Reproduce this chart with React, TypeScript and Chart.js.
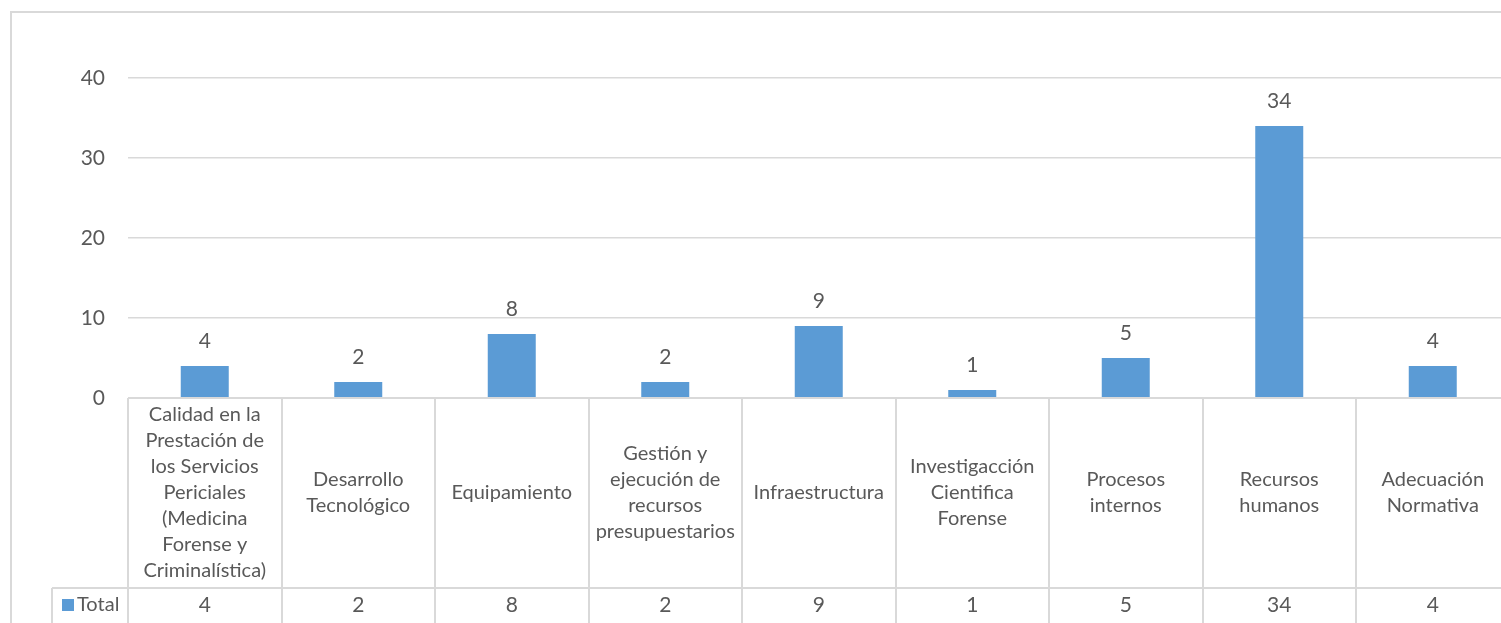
import React, { useEffect, useRef } from "react";
import { Chart, registerables } from "chart.js";

Chart.register(...registerables);

const categories: string[][] = [
  ["Calidad en la", "Prestación de", "los Servicios", "Periciales", "(Medicina", "Forense y", "Criminalística)"],
  ["Desarrollo", "Tecnológico"],
  ["Equipamiento"],
  ["Gestión y", "ejecución de", "recursos", "presupuestarios"],
  ["Infraestructura"],
  ["Investigacción", "Cientifica", "Forense"],
  ["Procesos", "internos"],
  ["Recursos", "humanos"],
  ["Adecuación", "Normativa"],
];
const totals: number[] = [4, 2, 8, 2, 9, 1, 5, 34, 4];
const seriesName = "Total";
const yMin = 0;
const yMax = 40;
const yStep = 10;

const BAR_COLOR = "#5B9BD5";
const TEXT_COLOR = "#595959";
const LINE_COLOR = "#d9d9d9";
const FONT_FAMILY = "Lato, 'Open Sans', sans-serif";
const FONT_SIZE = 20;
const NUM_FONT_SIZE = 21;

const CANVAS_W = 1520;
const CANVAS_H = 650;

const tablePlugin = {
  id: "dataTable",
  afterDatasetsDraw(chart: any) {
    const ctx = chart.ctx;
    const meta = chart.getDatasetMeta(0);
    ctx.save();
    ctx.fillStyle = TEXT_COLOR;
    ctx.font = `${NUM_FONT_SIZE}px ${FONT_FAMILY}`;
    ctx.textAlign = "center";
    ctx.textBaseline = "middle";
    meta.data.forEach((bar: any, i: number) => {
      ctx.fillText(String(totals[i]), bar.x, bar.y - 25);
    });
    ctx.restore();
  },
  afterDraw(chart: any) {
    const ctx = chart.ctx;
    const area = chart.chartArea;
    const xs = chart.scales.x;
    const n = categories.length;
    const w = (area.right - area.left) / n;
    const top = area.bottom;
    const headerBottom = top + 190;
    const rowBottom = CANVAS_H + 10;
    const legendLeft = 52;

    ctx.save();
    // outer chart border
    ctx.strokeStyle = LINE_COLOR;
    ctx.lineWidth = 2;
    ctx.strokeRect(11, 12, CANVAS_W + 20, CANVAS_H + 20);

    // table lines
    ctx.lineWidth = 2;
    ctx.beginPath();
    for (let i = 0; i <= n; i++) {
      const x = Math.round(area.left + i * w);
      ctx.moveTo(x, top);
      ctx.lineTo(x, rowBottom);
    }
    ctx.moveTo(area.left, top);
    ctx.lineTo(area.right, top);
    ctx.moveTo(legendLeft, headerBottom);
    ctx.lineTo(area.right, headerBottom);
    ctx.moveTo(legendLeft, headerBottom);
    ctx.lineTo(legendLeft, rowBottom);
    ctx.stroke();

    // header labels
    ctx.fillStyle = TEXT_COLOR;
    ctx.font = `${FONT_SIZE}px ${FONT_FAMILY}`;
    ctx.textAlign = "center";
    ctx.textBaseline = "middle";
    const lh = 26;
    const midY = (top + headerBottom) / 2;
    categories.forEach((lines, i) => {
      const cx = xs.getPixelForValue(i);
      const startY = midY - ((lines.length - 1) * lh) / 2;
      lines.forEach((t, j) => ctx.fillText(t, cx, startY + j * lh));
    });

    // value row
    const rowY = headerBottom + 17;
    ctx.font = `${NUM_FONT_SIZE}px ${FONT_FAMILY}`;
    totals.forEach((v, i) => {
      ctx.fillText(String(v), xs.getPixelForValue(i), rowY);
    });

    // legend key
    ctx.fillStyle = BAR_COLOR;
    ctx.fillRect(62, rowY - 6, 12, 12);
    ctx.fillStyle = TEXT_COLOR;
    ctx.textAlign = "left";
    ctx.font = `${FONT_SIZE}px ${FONT_FAMILY}`;
    ctx.fillText(seriesName, 77, rowY);
    ctx.restore();
  },
};

export default function App() {
  const ref = useRef<HTMLCanvasElement | null>(null);
  useEffect(() => {
    if (!ref.current) return;
    const chart = new Chart(ref.current, {
      type: "bar",
      data: {
        labels: categories,
        datasets: [
          {
            label: seriesName,
            data: totals,
            backgroundColor: BAR_COLOR,
            barPercentage: 0.3127,
            categoryPercentage: 1,
          },
        ],
      },
      options: {
        animation: false,
        responsive: false,
        devicePixelRatio: 1,
        layout: { padding: { top: 78, right: 10.5, bottom: 0, left: 0 } },
        plugins: {
          legend: { display: false },
          tooltip: { enabled: false },
          title: { display: false },
        },
        scales: {
          x: {
            ticks: { display: false },
            grid: { display: false },
            border: { display: false },
            afterFit: (s: any) => {
              s.height = CANVAS_H - 398;
            },
          },
          y: {
            min: yMin,
            max: yMax,
            ticks: {
              stepSize: yStep,
              color: TEXT_COLOR,
              font: { size: NUM_FONT_SIZE, family: FONT_FAMILY },
              padding: 23,
            },
            grid: { color: LINE_COLOR, lineWidth: 1.5, drawTicks: false },
            border: { display: false },
            afterFit: (s: any) => {
              s.width = 128;
            },
          },
        },
      },
      plugins: [tablePlugin],
    });
    return () => chart.destroy();
  }, []);
  return (
    <div
      style={{
        position: "fixed",
        left: 0,
        top: 0,
        width: 1501,
        height: 623,
        overflow: "hidden",
        background: "#fff",
      }}
    >
      <canvas ref={ref} width={CANVAS_W} height={CANVAS_H} style={{ display: "block" }} />
    </div>
  );
}
